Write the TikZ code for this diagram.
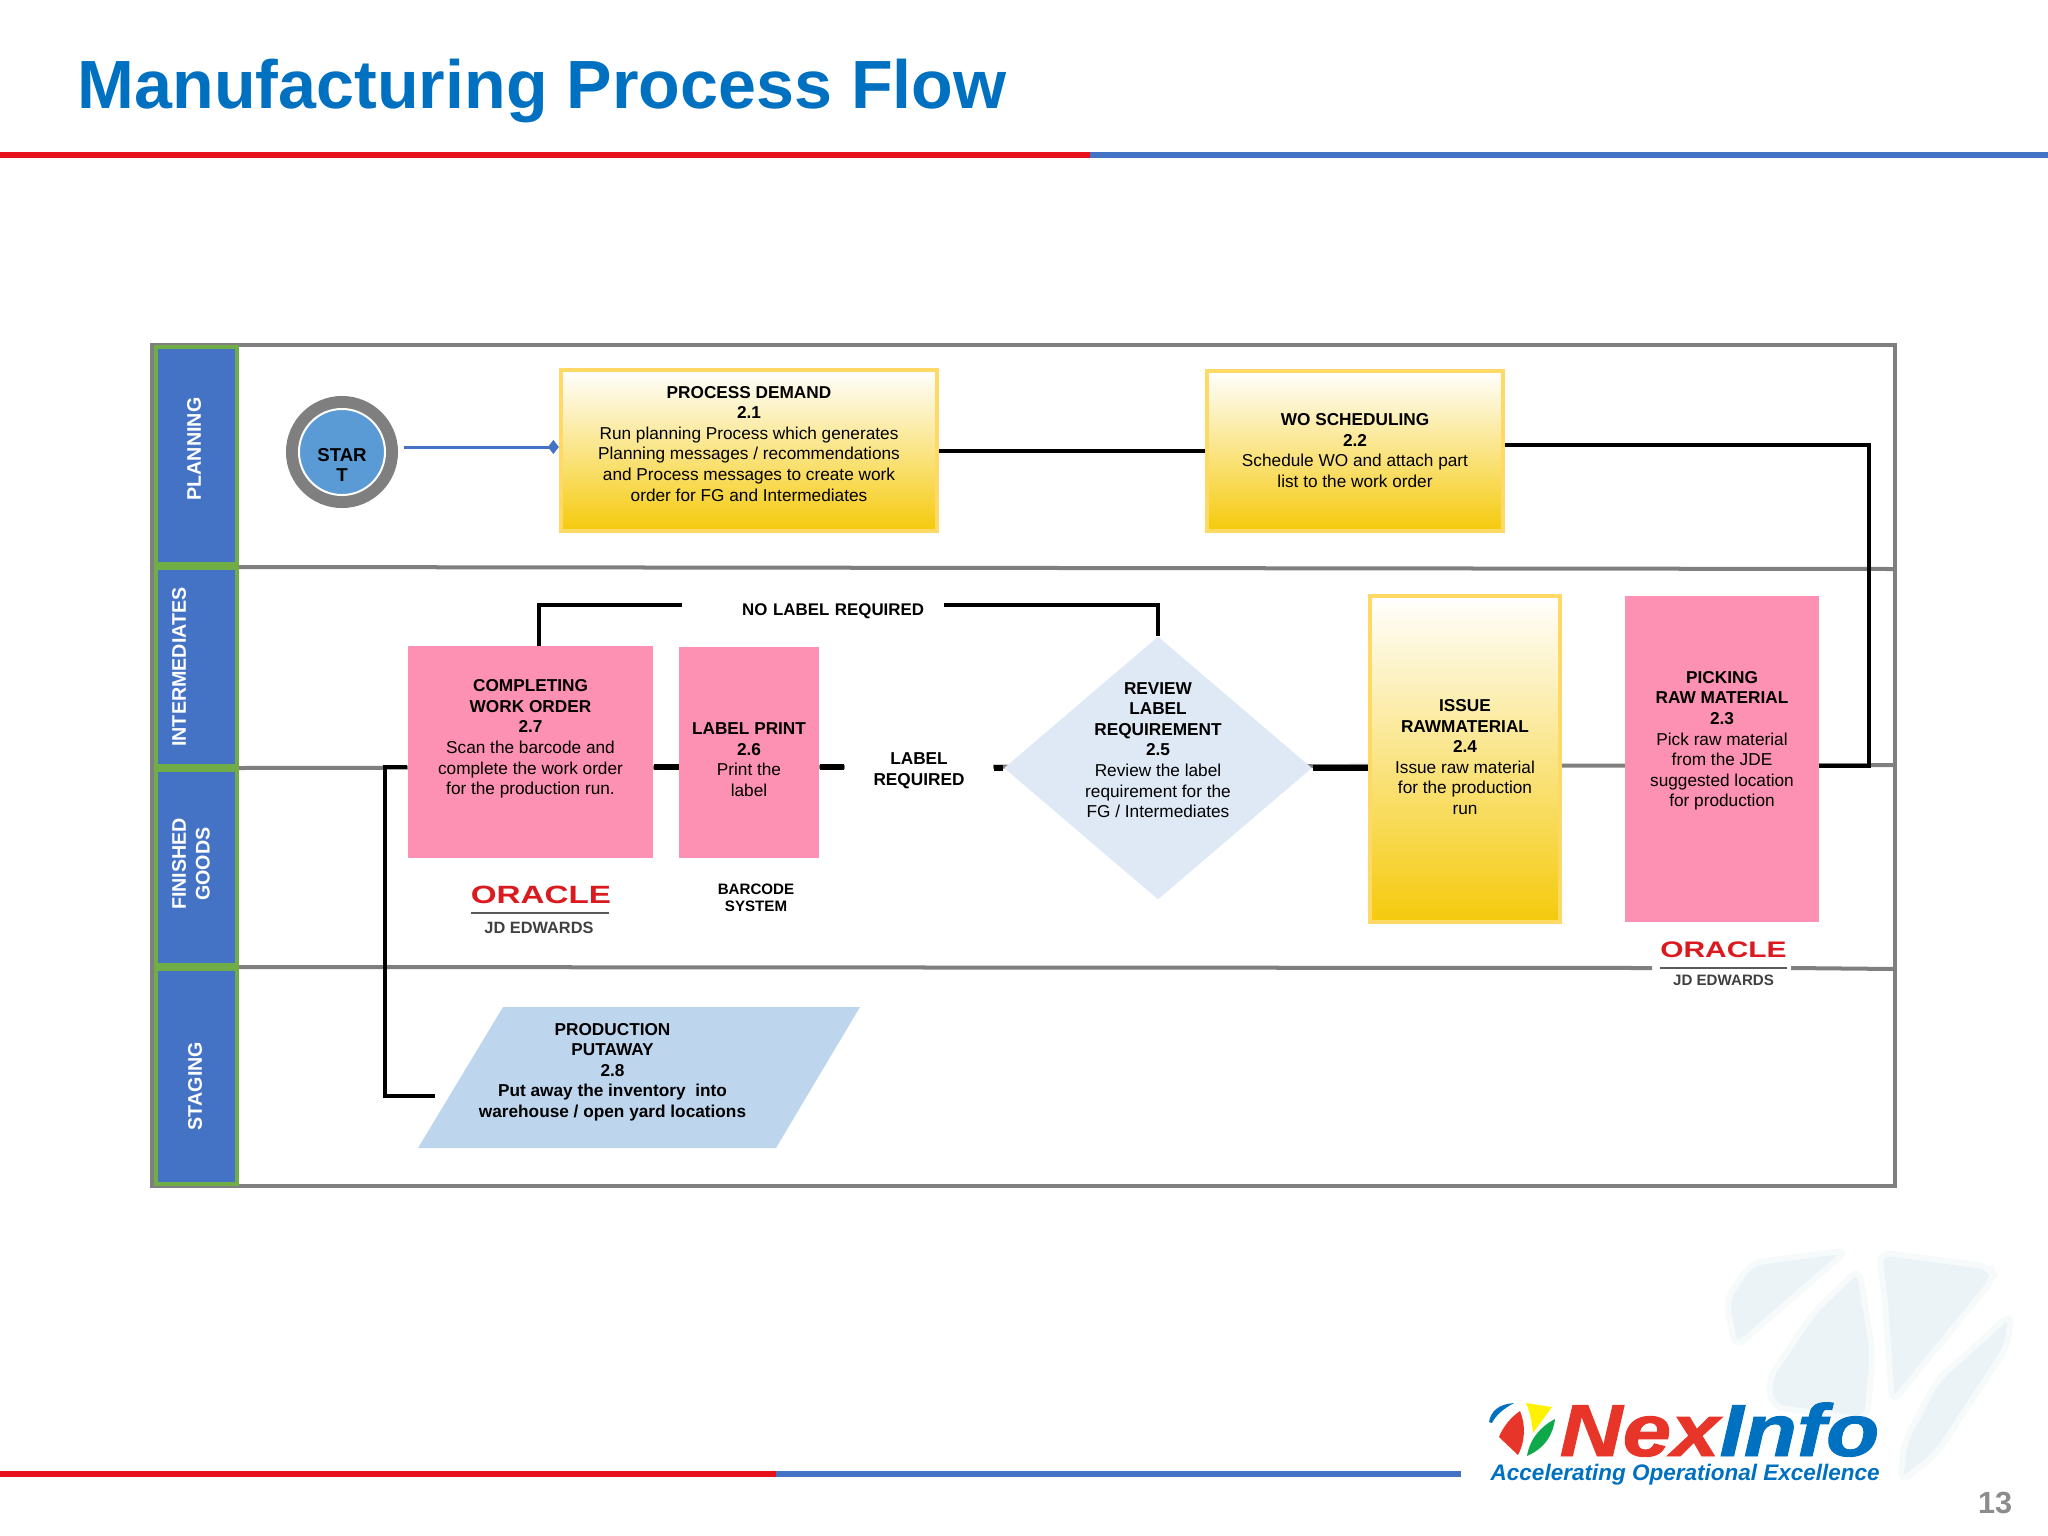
\documentclass[tikz,border=0pt]{standalone}
\usepackage{fontspec}
\setmainfont{Liberation Sans}
\newfontfamily\logofont[BoldItalicFeatures={FakeBold=1.2}]{Liberation Sans}
\usetikzlibrary{arrows.meta,shapes.geometric}

\definecolor{titleblue}{HTML}{0070C0}
\definecolor{rulered}{HTML}{E8101A}
\definecolor{ruleblue}{HTML}{4472C4}
\definecolor{lanegray}{HTML}{7F7F7F}
\definecolor{lanegreen}{HTML}{70AD47}
\definecolor{discblue}{HTML}{5B9BD5}
\definecolor{boxedge}{HTML}{FFD966}
\definecolor{boxmid}{HTML}{FBE07C}
\definecolor{boxend}{HTML}{F5CA0C}
\definecolor{boxpink}{HTML}{FC91B3}
\definecolor{reviewblue}{HTML}{DEE9F5}
\definecolor{putblue}{HTML}{BDD6EE}
\definecolor{oraclered}{HTML}{DA1A1F}
\definecolor{logored}{HTML}{E8352A}
\definecolor{logogreen}{HTML}{0FA84A}
\definecolor{logoyellow}{HTML}{FFF200}
\definecolor{wmark}{HTML}{EBF3F7}

\tikzset{
    boxtext/.style={align=center, text=black, inner sep=0pt,
        font=\fontsize{4.9pt}{5.86pt}\selectfont},
    boldtext/.style={boxtext, font=\fontsize{4.9pt}{5.86pt}\selectfont\bfseries},
    yellowbox/.style={boxtext, rectangle, draw=boxedge, line width=0.04cm,
        top color=white, middle color=boxmid, bottom color=boxend},
    pinkbox/.style={boxtext, rectangle, fill=boxpink},
    laneHead/.style={rectangle, draw=lanegreen, line width=0.04cm, fill=ruleblue,
        minimum width=0.81cm, inner sep=0pt},
    laneText/.style={rotate=90, align=center, text=white, inner sep=0pt,
        font=\fontsize{5.6pt}{6.8pt}\selectfont\bfseries},
    laneLine/.style={draw=lanegray, line width=0.04cm},
    flowLine/.style={draw=black, line width=0.04cm},
    flowThick/.style={draw=black, line width=0.055cm},
    oracleText/.style={text=oraclered, inner sep=0pt, font=\fontsize{7.1pt}{7.1pt}\selectfont\bfseries},
    jdText/.style={text=black!75, inner sep=0pt, font=\fontsize{4.65pt}{5pt}\selectfont\bfseries},
    wmarkPiece/.style={fill=wmark, draw=wmark!45, line width=0.06cm, rounded corners=0.12cm},
}

\begin{document}
\begin{tikzpicture}[x=0.01cm,y=-0.01cm]
    \useasboundingbox (0,0) rectangle (2048,1536);

    % title and rules
    \node[anchor=base west, inner sep=0pt, text=titleblue, font=\fontsize{19.4pt}{19.4pt}\selectfont\bfseries] (title) at (77,108) {Manufacturing Process Flow};
    \draw[rulered, line width=0.06cm] (0,155) -- (1090,155);
    \draw[ruleblue, line width=0.06cm] (1090,155) -- (2048,155);
    \draw[rulered, line width=0.06cm] (0,1474) -- (776,1474);
    \draw[ruleblue, line width=0.06cm] (776,1474) -- (1461,1474);

    % watermark
    \draw[wmarkPiece] (1848,1250) -- (1751,1263) -- (1726,1300) -- (1735,1348) -- cycle;
    \draw[wmarkPiece] (1859,1268) -- (1873,1353) -- (1867,1420) -- (1772,1407) -- (1768,1380) -- (1813,1313) -- cycle;
    \draw[wmarkPiece] (1879,1252) -- (1991,1267) -- (1995,1277) -- (1892,1403) -- (1885,1303) -- cycle;
    \draw[wmarkPiece] (2012,1313) -- (2007,1347) -- (1937,1453) -- (1900,1483) -- (1904,1443) -- (1937,1380) -- cycle;

    % lanes
    \draw[laneLine] (152,345) rectangle (1895,1186);
    \draw[laneLine] (238,567) -- (1895,569);
    \draw[laneLine] (238,768) -- (1895,765);
    \draw[laneLine] (238,967) -- (1652,968);
    \draw[laneLine] (1791,968) -- (1895,969);

    \foreach \name/\ymid/\hgt in {planHead/455.5/2.17, interHead/667/1.98, finishHead/867.5/1.95, stageHead/1076.5/2.15}
        \node[laneHead, minimum height=\hgt cm] (\name) at (196.5,\ymid) {};

    \node[laneText] (planText) at (194,449) {PLANNING};
    \node[laneText] (interText) at (179,667) {INTERMEDIATES};
    \node[laneText] (finishText) at (191,864) {FINISHED\\GOODS};
    \node[laneText] (stageText) at (195,1086) {STAGING};

    % start
    \node[circle, fill=lanegray, minimum size=1.12cm, inner sep=0pt] (startRing) at (342,452) {};
    \node[circle, fill=discblue, draw=white, line width=0.02cm, minimum size=0.86cm, inner sep=0pt] (startDisc) at (342,452) {};
    \node[boxtext, font=\fontsize{5.3pt}{5.95pt}\selectfont\bfseries] (startText) at (342,465) {STAR\\T};

    % boxes
    \node[yellowbox, minimum width=3.76cm, minimum height=1.61cm] (procDemand) at (749,450.5) {\textbf{PROCESS DEMAND}\\\textbf{2.1}\\Run planning Process which generates\\Planning messages / recommendations\\and Process messages to create work\\order for FG and Intermediates\\[-0.066cm]\mbox{}};
    \node[yellowbox, minimum width=2.96cm, minimum height=1.6cm] (woSched) at (1355,450.7) {\textbf{WO SCHEDULING}\\\textbf{2.2}\\Schedule WO and attach part\\list to the work order};
    \node[yellowbox, minimum width=1.9cm, minimum height=3.26cm] (issue) at (1465,759) {\textbf{ISSUE}\\\textbf{RAWMATERIAL}\\\textbf{2.4}\\Issue raw material\\for the production\\run\\[-0.166cm]\mbox{}};
    \node[pinkbox, minimum width=1.93cm, minimum height=3.26cm] (picking) at (1722,759) {\textbf{PICKING}\\\textbf{RAW MATERIAL}\\\textbf{2.3}\\Pick raw material\\from the JDE\\suggested location\\for production\\[0.194cm]\mbox{}};
    \node[pinkbox, minimum width=2.45cm, minimum height=2.12cm] (complete) at (530.5,752) {\textbf{COMPLETING}\\\textbf{WORK ORDER}\\\textbf{2.7}\\Scan the barcode and\\complete the work order\\for the production run.\\[0.09cm]\mbox{}};
    \node[pinkbox, minimum width=1.395cm, minimum height=2.11cm] (labelPrint) at (749,752.5) {\mbox{}\\[0.054cm]\textbf{LABEL PRINT}\\\textbf{2.6}\\Print the\\label};

    \node[diamond, fill=reviewblue, minimum width=3.08cm, minimum height=2.63cm, aspect=1.17, inner sep=0pt] (review) at (1158,768) {};
    \node[boxtext] (reviewText) at (1158,750) {\textbf{REVIEW}\\\textbf{LABEL}\\\textbf{REQUIREMENT}\\\textbf{2.5}\\Review the label\\requirement for the\\FG / Intermediates};

    \fill[putblue] (418,1148) -- (503,1007) -- (860,1007) -- (776,1148) -- cycle;
    \node[boldtext] (putaway) at (612.5,1072) {PRODUCTION\\PUTAWAY\\2.8\\Put away the inventory\ \ into\\warehouse / open yard locations};

    % branch labels
    \node[boldtext, fill=white, minimum width=1.48cm, minimum height=0.5cm] (labelReq) at (919,767) {\mbox{}\\[-0.01cm]LABEL\\REQUIRED};
    \node[boldtext, minimum width=2.6cm, text width=2.22cm, inner xsep=0.19cm, align=right, font=\fontsize{4.8pt}{5.86pt}\selectfont\bfseries] (noLabel) at (813,604.5) {\raisebox{-0.26cm}{NO LABEL REQUIRED}};

    % connectors
    \coordinate (startOut) at (404,447);
    \coordinate (bendRight) at (1869,766);
    \coordinate (completeTop) at (539,646);
    \coordinate (putBend) at (385,1096);
    \coordinate (putIn) at (435,1096);

    \draw[ruleblue, line width=0.03cm, -{Diamond[length=0.11cm,width=0.14cm]}] (startOut) -- (startOut -| procDemand.west);
    \draw[flowLine] (procDemand.east) -- (procDemand.east -| woSched.west);
    \draw[flowLine] ([yshift=0.055cm]woSched.east) -| (bendRight) -- (bendRight -| picking.east);
    \draw[flowThick] (review.east) -- (review.east -| issue.west);
    \draw[flowThick] (review.west) -- (review.west -| labelReq.east);
    \draw[flowThick] (labelReq.west) -- (labelReq.west -| labelPrint.east);
    \draw[flowThick] (labelReq.west -| labelPrint.west) -- (labelReq.west -| complete.east);
    \draw[flowLine] (labelReq.west -| complete.west) -| (putBend) -- (putIn);
    \draw[flowLine] (review.north) |- (noLabel.east);
    \draw[flowLine] (noLabel.west) -| (completeTop);

    % system labels
    \node[oracleText] (oracleLeft) at (541,895) {\scalebox{1.33}[1]{ORACLE}};
    \draw[black!65, line width=0.02cm] (471,913) -- (609,913);
    \node[jdText] (jdLeft) at (539,928) {JD EDWARDS};
    \node[boldtext, font=\fontsize{4.3pt}{4.85pt}\selectfont\bfseries] (barcode) at (756,898) {BARCODE\\SYSTEM};
    \node[oracleText, font=\fontsize{6.4pt}{6.4pt}\selectfont\bfseries] (oracleRight) at (1723.5,950) {\scalebox{1.33}[1]{ORACLE}};
    \draw[black!65, line width=0.02cm] (1660,967.5) -- (1787,967.5);
    \node[jdText, font=\fontsize{4.3pt}{5pt}\selectfont\bfseries] (jdRight) at (1723.5,980.5) {JD EDWARDS};

    % logo
    \fill[titleblue] (1489,1422) .. controls (1491,1410) and (1500,1404) .. (1514,1403) .. controls (1503,1409) and (1496,1415) .. (1492,1423) -- cycle;
    \fill[logored] (1520,1411) .. controls (1526,1425) and (1525,1442) .. (1518,1455) -- (1499,1437) .. controls (1503,1427) and (1510,1418) .. (1520,1411) -- cycle;
    \fill[logoyellow] (1526,1403) -- (1552,1407) -- (1533,1433) .. controls (1532,1422) and (1530,1412) .. (1526,1403) -- cycle;
    \fill[logogreen] (1555,1419) .. controls (1553,1435) and (1545,1448) .. (1527,1456) .. controls (1529,1442) and (1538,1428) .. (1555,1419) -- cycle;
    \node[anchor=base west, inner sep=0pt, text depth=0pt, font=\fontsize{21pt}{21pt}\selectfont\logofont\bfseries\itshape] (logoName) at (1559,1456) {\scalebox{1.18}[1]{\textcolor{logored}{Nex}\textcolor{titleblue}{Info}}};
    \node[anchor=base west, inner sep=0pt, text=titleblue, font=\fontsize{6.4pt}{6.4pt}\selectfont\bfseries\itshape] (logoTag) at (1490,1480) {Accelerating Operational Excellence};

    \node[inner sep=0pt, text=lanegray!90, font=\fontsize{8.7pt}{8.7pt}\selectfont\bfseries] (pageNum) at (1995,1503) {13};
\end{tikzpicture}
\end{document}
